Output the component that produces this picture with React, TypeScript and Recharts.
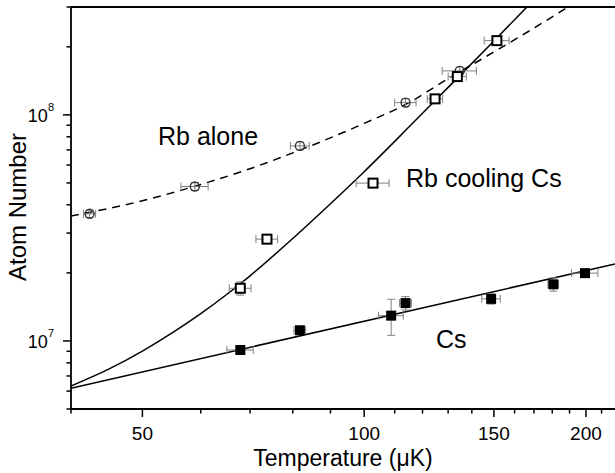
import React from 'react'
import {
  ComposedChart,
  Line,
  Scatter,
  XAxis,
  YAxis,
  ErrorBar,
  ReferenceLine,
} from 'recharts'

const FONT = '"Liberation Sans", Arial, Helvetica, sans-serif'

// Rb alone (open circles)
const rbAloneT = [42.4, 58.9, 81.8, 113.8, 134.8]
const rbAloneN = [3.65e7, 4.82e7, 7.29e7, 1.133e8, 1.565e8]
const rbAloneTErr = [0.8, 2.5, 2.4, 3.8, 7.2]
const rbAloneNErr = [1.4e6, 1.9e6, 2.9e6, 4.5e6, 6.2e6]

// Rb cooling Cs (open squares)
const rbCoolT = [67.9, 73.8, 102.8, 124.8, 133.8, 151.4]
const rbCoolN = [1.71e7, 2.82e7, 4.99e7, 1.177e8, 1.477e8, 2.13e8]
const rbCoolTErr = [2.3, 2.5, 5.3, 3.0, 3.8, 5.9]
const rbCoolNErr = [1.15e6, 1.2e6, 1.5e6, 4e6, 5e6, 6e6]

// Cs (filled squares)
const csT = [67.9, 81.8, 108.8, 113.8, 148.7, 180.6, 199.4]
const csN = [9.12e6, 1.115e7, 1.294e7, 1.47e7, 1.535e7, 1.78e7, 1.995e7]
const csTErr = [2.8, 1.5, 4.2, 2.1, 4.3, 3.0, 8.2]
const csNErr = [3e5, 4e5, 2.35e6, 1.0e6, 8e5, 1.2e6, 8e5]

// fitted curves
const rbAloneFitT = [40, 50, 60, 70, 80, 100, 115, 130, 150, 170, 190]
const rbAloneFitN = [3.57e7, 4.17e7, 4.92e7, 5.78e7, 6.79e7, 9.17e7, 1.132e8, 1.446e8, 1.898e8, 2.42e8, 3.03e8]
const rbCoolFitT = [40, 45, 50, 55, 60, 65, 70, 80, 90, 100, 115, 130, 150, 170]
const rbCoolFitN = [
  6.32e6, 7.5e6, 9.02e6, 1.091e7, 1.321e7, 1.601e7, 1.941e7, 2.84e7, 4.045e7, 5.607e7, 8.83e7,
  1.323e8, 2.122e8, 3.23e8,
]
const csFitT = [40, 219]
const csFitN = [6.18e6, 2.19e7]

const xTicks = [40, 50, 60, 70, 80, 90, 100, 110, 120, 130, 140, 150, 160, 170, 180, 190, 200, 210]
const xMajor = [50, 100, 150, 200]
const yTicks = [
  5e6, 6e6, 7e6, 8e6, 9e6, 1e7, 2e7, 3e7, 4e7, 5e7, 6e7, 7e7, 8e7, 9e7, 1e8, 2e8, 3e8,
]
const yMajor = [
  { value: 1e7, exp: '7' },
  { value: 1e8, exp: '8' },
]

const points = (t: number[], n: number[], te: number[], ne: number[]) =>
  t.map((T, i) => ({ T, N: n[i], xe: te[i], ye: ne[i] }))
const curve = (t: number[], n: number[]) => t.map((T, i) => ({ T, N: n[i] }))

const rbAlone = points(rbAloneT, rbAloneN, rbAloneTErr, rbAloneNErr)
const rbCool = points(rbCoolT, rbCoolN, rbCoolTErr, rbCoolNErr)
const cs = points(csT, csN, csTErr, csNErr)
const rbAloneFit = curve(rbAloneFitT, rbAloneFitN)
const rbCoolFit = curve(rbCoolFitT, rbCoolFitN)
const csFit = curve(csFitT, csFitN)

function XTick({ x, y, payload }: any) {
  const major = xMajor.includes(payload.value)
  return (
    <g>
      <line x1={x} x2={x} y1={y} y2={y + (major ? 8 : 4.5)} stroke='#000' strokeWidth={1.5} />
      {major && (
        <text x={x} y={y + 31} textAnchor='middle' fontSize={19} fontFamily={FONT} fill='#000'>
          {payload.value}
        </text>
      )}
    </g>
  )
}

function YTick({ x, y, payload }: any) {
  const major = yMajor.find((m) => Math.abs(m.value - payload.value) < 1)
  return (
    <g>
      <line x1={x} x2={x - (major ? 8 : 4.5)} y1={y} y2={y} stroke='#000' strokeWidth={1.5} />
      {major && (
        <text x={x - 17} y={y + 7} textAnchor='end' fontSize={18} fontFamily={FONT} fill='#000'>
          10
          <tspan dy={-11} fontSize={11}>
            {major.exp}
          </tspan>
        </text>
      )}
    </g>
  )
}

const OpenCircle = (p: any) => (
  <circle cx={p.cx} cy={p.cy} r={4.5} fill='none' stroke='#333' strokeWidth={1.4} />
)
const OpenSquare = (p: any) => (
  <rect x={p.cx - 4.5} y={p.cy - 4.5} width={9} height={9} fill='#fff' stroke='#000' strokeWidth={2} />
)
const FilledSquare = (p: any) => (
  <rect x={p.cx - 5} y={p.cy - 5} width={10} height={10} fill='#000' />
)

const errProps = { stroke: '#808080', strokeWidth: 1, width: 4, isAnimationActive: false }

export default function App() {
  return (
    <div style={{ position: 'absolute', left: 0, top: 0, width: 615, height: 473, background: '#fff' }}>
      <ComposedChart width={615} height={473} margin={{ top: 7, right: 0, left: 0, bottom: 0 }}>
        <XAxis
          dataKey='T'
          type='number'
          scale='log'
          domain={[40, 219]}
          allowDataOverflow
          ticks={xTicks}
          interval={0}
          height={64}
          tickSize={0}
          tickMargin={0}
          tick={XTick}
          tickLine={false}
          axisLine={{ stroke: '#000', strokeWidth: 1.8 }}
        />
        <YAxis
          dataKey='N'
          type='number'
          scale='log'
          domain={[5e6, 3e8]}
          allowDataOverflow
          ticks={yTicks}
          interval={0}
          width={71}
          tickSize={0}
          tickMargin={0}
          tick={YTick}
          tickLine={false}
          axisLine={{ stroke: '#000', strokeWidth: 1.8 }}
        />
        <ReferenceLine y={3e8} stroke='#000' strokeWidth={1.8} />
        <Line
          data={rbAloneFit}
          dataKey='N'
          type='monotone'
          stroke='#000'
          strokeWidth={1.5}
          strokeDasharray='8 6'
          dot={false}
          isAnimationActive={false}
        />
        <Line
          data={rbCoolFit}
          dataKey='N'
          type='monotone'
          stroke='#000'
          strokeWidth={1.5}
          dot={false}
          isAnimationActive={false}
        />
        <Line
          data={csFit}
          dataKey='N'
          type='linear'
          stroke='#000'
          strokeWidth={1.6}
          dot={false}
          isAnimationActive={false}
        />
        <Scatter data={rbAlone} dataKey='N' shape={OpenCircle} isAnimationActive={false}>
          <ErrorBar dataKey='xe' direction='x' {...errProps} />
          <ErrorBar dataKey='ye' direction='y' {...errProps} />
        </Scatter>
        <Scatter data={rbCool} dataKey='N' shape={OpenSquare} isAnimationActive={false}>
          <ErrorBar dataKey='xe' direction='x' {...errProps} />
          <ErrorBar dataKey='ye' direction='y' {...errProps} />
        </Scatter>
        <Scatter data={cs} dataKey='N' shape={FilledSquare} isAnimationActive={false}>
          <ErrorBar dataKey='xe' direction='x' {...errProps} />
          <ErrorBar dataKey='ye' direction='y' {...errProps} />
        </Scatter>
      </ComposedChart>
      <svg
        width={615}
        height={473}
        style={{ position: 'absolute', left: 0, top: 0, pointerEvents: 'none' }}
        fontFamily={FONT}
      >
        <text x={158} y={145} fontSize={25}>Rb alone</text>
        <text x={406} y={187} fontSize={25}>Rb cooling Cs</text>
        <text x={436} y={348} fontSize={25}>Cs</text>
        <text x={343} y={466} fontSize={23} textAnchor='middle'>Temperature (μK)</text>
        <text x={26} y={207} fontSize={24} textAnchor='middle' transform='rotate(-90 26 207)'>
          Atom Number
        </text>
      </svg>
    </div>
  )
}
